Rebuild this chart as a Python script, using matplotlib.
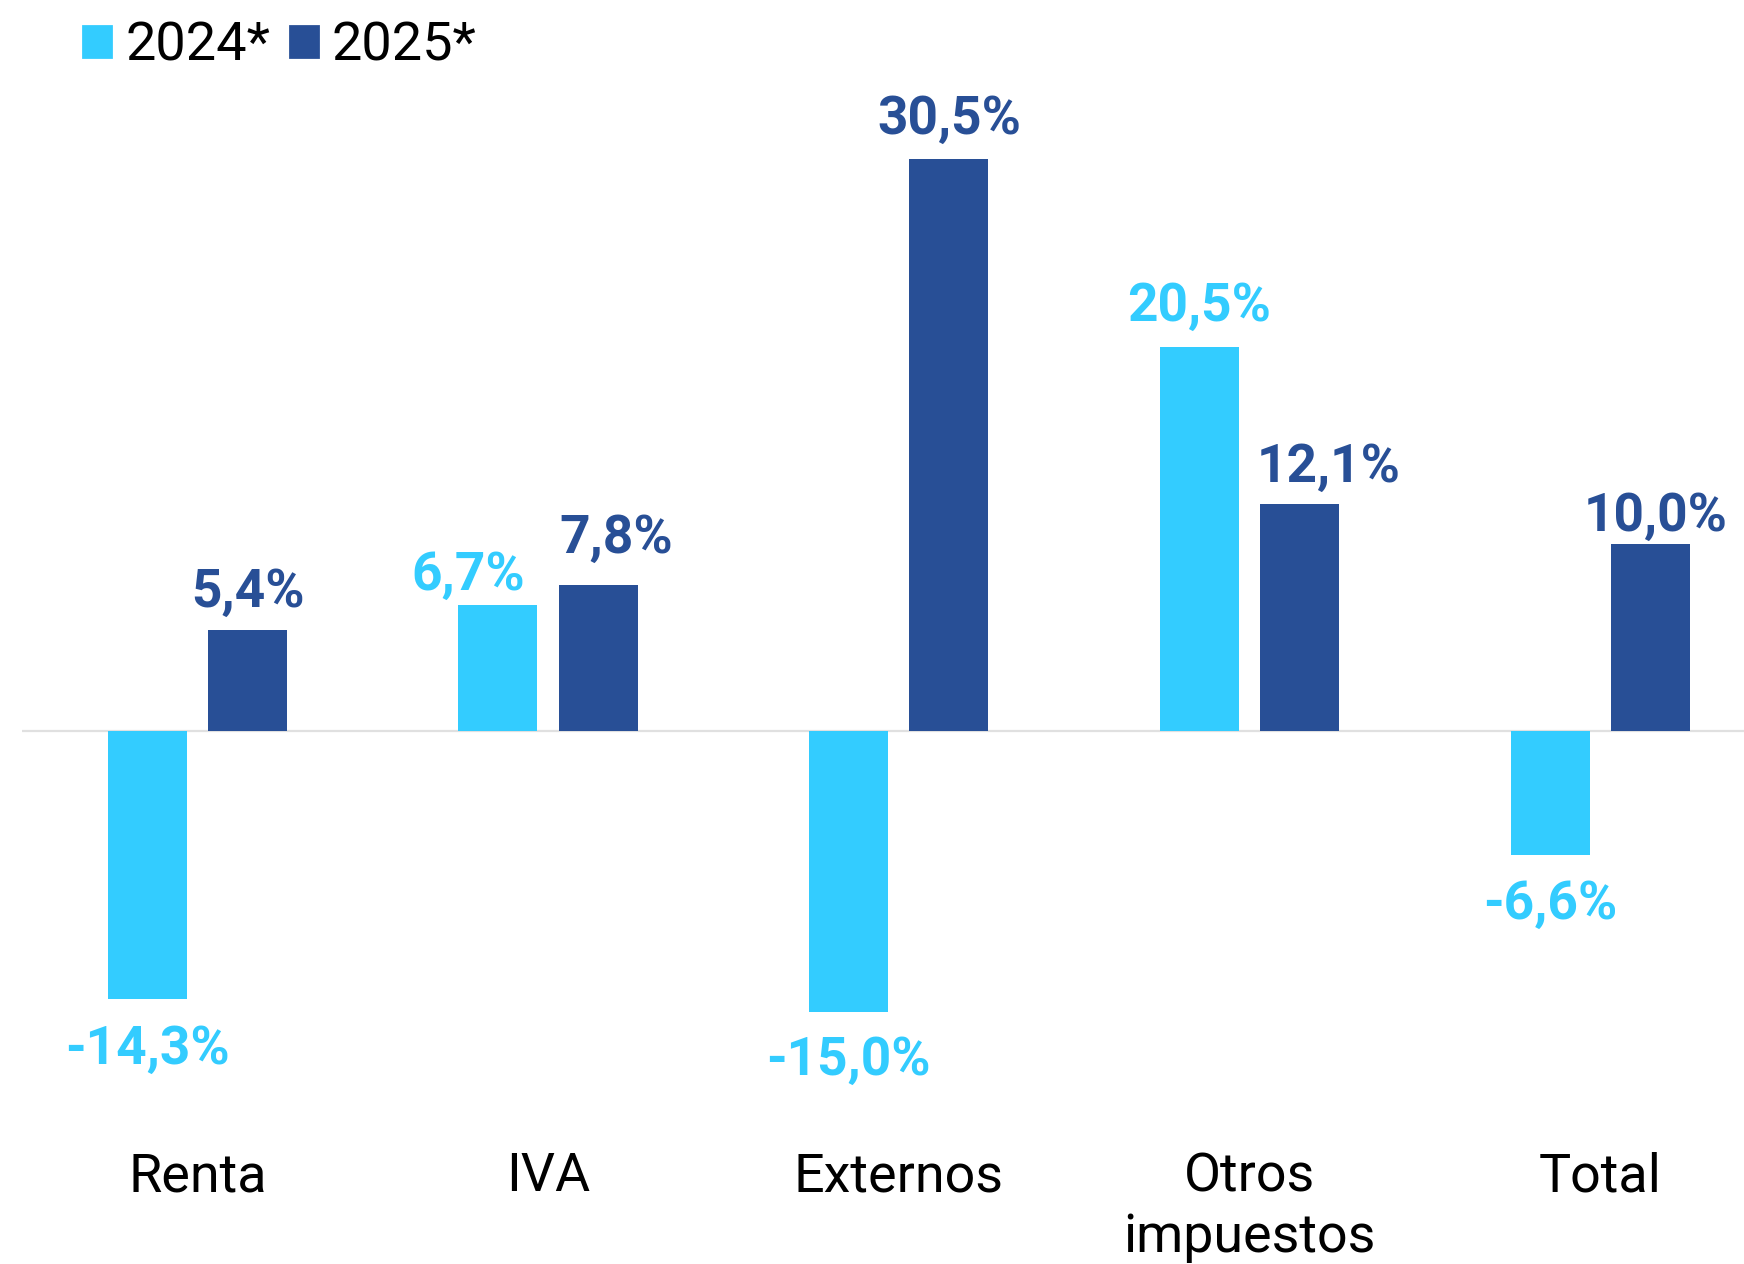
import matplotlib.pyplot as plt
from matplotlib.patches import Patch
import numpy as np

plt.rcParams['font.family'] = ['Roboto', 'DejaVu Sans']

categorias = ['Renta', 'IVA', 'Externos', 'Otros\nimpuestos', 'Total']
valores_2024 = [-14.3, 6.7, -15.0, 20.5, -6.6]
valores_2025 = [5.4, 7.8, 30.5, 12.1, 10.0]
series = ['2024*', '2025*']

# desplazamiento de cada etiqueta (puntos) respecto al extremo de la barra
desp_2024 = [(0, -18.2), (-10.8, 10.8), (0, -17.2), (0, 14.4), (0, -18)]
desp_2025 = [(0, 13.6), (6.4, 16.6), (0, 14.4), (10.4, 13.2), (2, 9.6)]

color_claro = '#33CCFF'
color_oscuro = '#284F96'

fig = plt.figure(figsize=(8.72, 6.32), dpi=200)
ax = fig.add_axes([22 / 1744, 1 - 1031 / 1264, 1 - 22 / 1744, (1031 - 93.5) / 1264])

x = np.arange(len(categorias))
ancho = 0.225
desp = 0.143

b1 = ax.bar(x - desp, valores_2024, ancho, color=color_claro, zorder=2)
b2 = ax.bar(x + desp, valores_2025, ancho, color=color_oscuro, zorder=2)

def etiquetas(barras, valores, offsets, color):
    for barra, v, off in zip(barras, valores, offsets):
        cx = barra.get_x() + barra.get_width() / 2
        texto = f"{v:.1f}%".replace('.', ',')
        ax.annotate(texto, (cx, v), xytext=off, textcoords='offset points',
                    ha='center', va='center', fontsize=19.2, fontweight='bold', color=color)

etiquetas(b1, valores_2024, desp_2024, color_claro)
etiquetas(b2, valores_2025, desp_2025, color_oscuro)

ax.axhline(0, color='#E0E0E0', linewidth=0.8, zorder=1)
ax.set_xlim(-0.5, 4.41)
ax.set_ylim(-16, 34)
ax.set_xticks(x)
ax.set_xticklabels(categorias, fontsize=19.4, linespacing=1.25)
ax.tick_params(axis='x', length=0, pad=43.3)
ax.set_yticks([])
for s in ax.spines.values():
    s.set_visible(False)

handles = [Patch(color=color_claro), Patch(color=color_oscuro)]
fig.legend(handles, series, loc='center left', bbox_to_anchor=(83 / 1744, 1 - 46 / 1264),
           ncol=2, frameon=False, fontsize=19.5, handlelength=0.52, handleheight=0.52,
           handletextpad=0.26, columnspacing=0.36, borderaxespad=0, borderpad=0)

fig.savefig('out.png', dpi=200)
